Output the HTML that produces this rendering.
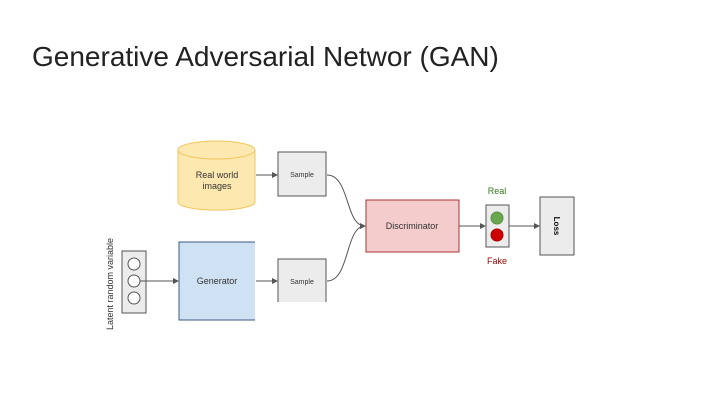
<!DOCTYPE html>
<html><head><style>
body{margin:0;width:720px;height:405px;background:#fff;overflow:hidden;position:relative;font-family:"Liberation Sans",sans-serif}
.t{position:absolute;left:32px;top:41px;font-size:28px;color:#222}
</style></head><body>
<div class="t">Generative Adversarial Networ (GAN)</div>
<svg width="720" height="405" style="position:absolute;left:0;top:0" font-family="Liberation Sans, sans-serif">
<defs><marker id="a" markerWidth="6" markerHeight="6" refX="5" refY="3" orient="auto"><path d="M0,0L6,3L0,6z" fill="#555"/></marker></defs>
<path d="M178,150 L178,202 A38,8 0 0 0 255,202 L255,150" fill="#fde9b0" stroke="#f2c55c"/>
<ellipse cx="216.5" cy="150" rx="38.5" ry="9" fill="#fde9b0" stroke="#f2c55c"/>
<text x="217" y="178" font-size="9" text-anchor="middle" fill="#333">Real world</text>
<text x="217" y="189" font-size="9" text-anchor="middle" fill="#333">images</text>
<rect x="278" y="152" width="48" height="44" fill="#ececec" stroke="#555"/>
<text x="302" y="177" font-size="7" text-anchor="middle" fill="#333">Sample</text>
<path d="M278,302 V259 H326 V302" fill="#ececec" stroke="#555"/>
<text x="302" y="284" font-size="7" text-anchor="middle" fill="#333">Sample</text>
<path d="M255,242 H179 V320 H255" fill="#cfe2f3" stroke="#3d5a80"/>
<rect x="180" y="243" width="75" height="76" fill="#cfe2f3"/>
<text x="217" y="284" font-size="9" text-anchor="middle" fill="#333">Generator</text>
<rect x="122" y="251" width="24" height="62" fill="#ececec" stroke="#555"/>
<circle cx="134" cy="264" r="6" fill="#fff" stroke="#555"/>
<circle cx="134" cy="281" r="6" fill="#fff" stroke="#555"/>
<circle cx="134" cy="298" r="6" fill="#fff" stroke="#555"/>
<text transform="translate(113,284) rotate(-90)" font-size="9" text-anchor="middle" fill="#333">Latent random variable</text>
<line x1="140" y1="281" x2="178" y2="281" stroke="#555" marker-end="url(#a)"/>
<line x1="256" y1="175" x2="277" y2="175" stroke="#555" marker-end="url(#a)"/>
<line x1="256" y1="281" x2="277" y2="281" stroke="#555" marker-end="url(#a)"/>
<path d="M327,175 C350,175 345,226 365,226" fill="none" stroke="#555" marker-end="url(#a)"/>
<path d="M327,281 C350,281 345,226 365,226" fill="none" stroke="#555"/>
<rect x="366" y="200" width="93" height="52" fill="#f4cccc" stroke="#a33"/>
<text x="412" y="229" font-size="9" text-anchor="middle" fill="#333">Discriminator</text>
<line x1="459" y1="226" x2="485" y2="226" stroke="#555" marker-end="url(#a)"/>
<rect x="486" y="205" width="23" height="42" fill="#ececec" stroke="#555"/>
<circle cx="497" cy="218" r="6" fill="#6aa84f" stroke="#5a9040"/>
<circle cx="497" cy="235" r="6" fill="#cc0000" stroke="#a00"/>
<text x="497" y="194" font-size="9" text-anchor="middle" fill="#38761d">Real</text>
<text x="497" y="264" font-size="9" text-anchor="middle" fill="#990000">Fake</text>
<line x1="509" y1="226" x2="539" y2="226" stroke="#555" marker-end="url(#a)"/>
<rect x="540" y="197" width="34" height="58" fill="#ececec" stroke="#555"/>
<text transform="translate(554,226) rotate(90)" font-size="8" font-weight="bold" text-anchor="middle" fill="#111">Loss</text>
</svg>
</body></html>
